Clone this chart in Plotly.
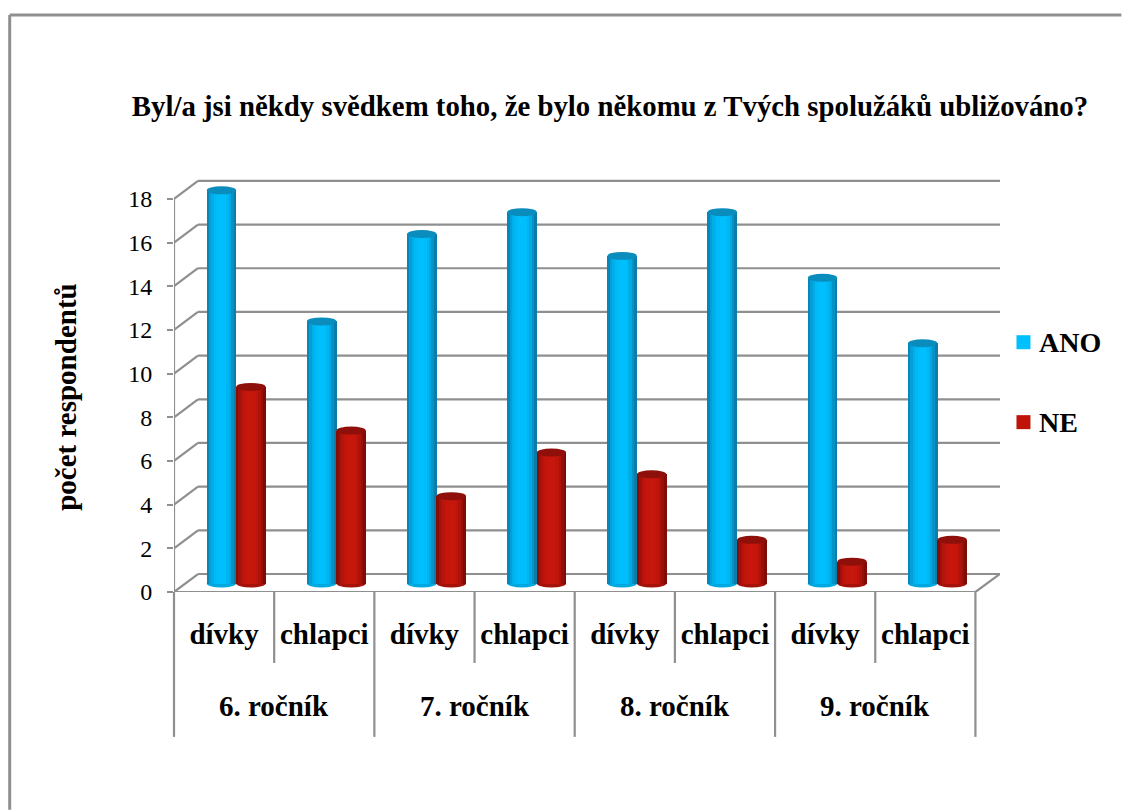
import plotly.graph_objects as go

TITLE = "Byl/a jsi někdy svědkem toho, že bylo někomu z Tvých spolužáků ubližováno?"
Y_TITLE = "počet respondentů"
GENDERS = ["dívky", "chlapci", "dívky", "chlapci", "dívky", "chlapci", "dívky", "chlapci"]
GRADES = ["6. ročník", "7. ročník", "8. ročník", "9. ročník"]
ANO = [18, 12, 16, 17, 15, 17, 14, 11]
NE = [9, 7, 4, 6, 5, 2, 1, 2]
Y_TICKS = list(range(0, 20, 2))

W, H = 1122, 810
LEFT, RIGHT, BOTTOM = 173.5, 1000.5, 592
CAT_PX = 100.3
UNIT_PX = 21.86
X_MAX = (RIGHT - LEFT) / CAT_PX
Y_MAX = 19
TOP = BOTTOM - Y_MAX * UNIT_PX
DX = 24 / CAT_PX
DY = 18 / UNIT_PX
LIFT = 8.5 / UNIT_PX
RY = 4 / UNIT_PX
BAR_W = 29.5 / CAT_PX
GRAY = "#8f8f8f"
FONT = "Liberation Serif"

# light across the cylinder, left to right
BLUE_STRIPS = ["#0a86b6", "#049fd8", "#01aeea", "#00b8f4", "#00bdfa", "#00bfff",
               "#00bfff", "#00bdfb", "#00b6f2", "#01a8e2", "#0592c6", "#0a7dab"]
RED_STRIPS = ["#860d07", "#a0110a", "#b4140b", "#bf150b", "#c5160c", "#c7160c",
              "#c7160c", "#c5160c", "#bd150b", "#ae130a", "#970f08", "#7f0c06"]


def px_x(p):
    return (p - LEFT) / (RIGHT - LEFT)


def px_y(p):
    return (BOTTOM - p) / (BOTTOM - TOP)


def line(x0, y0, x1, y1, ref="x", width=2.2):
    yref = "paper" if ref == "paper" else "y"
    xref = "paper" if ref == "paper" else "x"
    return dict(type="line", xref=xref, yref=yref, x0=x0, y0=y0, x1=x1, y1=y1,
                line=dict(color=GRAY, width=width), layer="below")


fig = go.Figure()
shapes = []

for name, values, strips, shift, cap, foot in [
    ("ANO", ANO, BLUE_STRIPS, 0.4736, "#0a8cbc", "#00a8e0"),
    ("NE", NE, RED_STRIPS, 0.768, "#8f100a", "#a5120a"),
]:
    centers = [i + shift for i in range(len(values))]
    strip_w = BAR_W / len(strips)
    for k, color in enumerate(strips):
        fig.add_trace(go.Bar(
            x=[c - BAR_W / 2 + (k + 0.5) * strip_w for c in centers],
            y=values,
            base=LIFT,
            width=strip_w * 1.15,
            name=name,
            showlegend=False,
            marker=dict(color=color, line=dict(width=0)),
            hovertemplate=f"%{{y}}<extra>{name}</extra>",
        ))
    for c, v in zip(centers, values):
        shapes.append(dict(type="circle", xref="x", yref="y", layer="below",
                           x0=c - BAR_W / 2, x1=c + BAR_W / 2, y0=LIFT - RY, y1=LIFT + RY,
                           fillcolor=foot, line=dict(width=0)))
        shapes.append(dict(type="circle", xref="x", yref="y", layer="above",
                           x0=c - BAR_W / 2, x1=c + BAR_W / 2,
                           y0=v + LIFT - RY, y1=v + LIFT + RY,
                           fillcolor=cap, line=dict(width=0)))

# back wall and side wall gridlines
for v in Y_TICKS:
    shapes.append(line(0, v, DX, v + DY))
    shapes.append(line(DX, v + DY, X_MAX, v + DY))

# floor
shapes.append(line(0, 0, 8, 0))
shapes.append(line(8, 0, X_MAX, DY))
shapes.append(line(0, 0, 0, 18))

# category dividers below the floor
for i in range(9):
    end = 737 if i % 2 == 0 else 663
    shapes.append(line(px_x(LEFT + i * CAT_PX), px_y(BOTTOM), px_x(LEFT + i * CAT_PX), px_y(end), ref="paper"))

# outer frame
shapes.append(line(px_x(9), px_y(14.5), px_x(W), px_y(14.5), ref="paper", width=3))
shapes.append(line(px_x(9), px_y(14.5), px_x(9), px_y(H), ref="paper", width=3))

annotations = [
    dict(text=f"<b>{g}</b>", x=2 * i + 1, y=px_y(706), xref="x", yref="paper", yanchor="middle",
         showarrow=False, font=dict(family=FONT, size=29, color="black"))
    for i, g in enumerate(GRADES)
]
annotations.append(dict(text=f"<b>{Y_TITLE}</b>", x=px_x(66), y=px_y(397), xref="paper", yref="paper",
                        xanchor="center", yanchor="middle", showarrow=False, textangle=-90,
                        font=dict(family=FONT, size=29, color="black")))

# legend keys
for name, color, py in [("ANO", "#00bfff", 342), ("NE", "#c0140a", 422)]:
    shapes.append(dict(type="rect", xref="paper", yref="paper", layer="above",
                       x0=px_x(1017), x1=px_x(1031), y0=px_y(py - 7), y1=px_y(py + 7),
                       fillcolor=color, line=dict(width=0)))
    annotations.append(dict(text=f"<b>{name}</b>", x=px_x(1038), y=px_y(py), xref="paper", yref="paper",
                            xanchor="left", yanchor="middle", showarrow=False,
                            font=dict(family=FONT, size=28, color="black")))

fig.update_layout(
    width=W,
    height=H,
    autosize=False,
    barmode="overlay",
    bargap=0,
    showlegend=False,
    paper_bgcolor="white",
    plot_bgcolor="white",
    margin=dict(l=LEFT, r=W - RIGHT, t=TOP, b=H - BOTTOM, pad=0),
    font=dict(family=FONT, size=24, color="black"),
    title=dict(text=f"<b>{TITLE}</b>", x=610 / W, xanchor="center", y=1 - 106 / H, yanchor="middle",
               font=dict(family=FONT, size=28.8, color="black")),
    xaxis=dict(
        range=[0, X_MAX],
        tickmode="array",
        tickvals=[i + 0.5 for i in range(8)],
        ticktext=[f"<b>{g}</b>" for g in GENDERS],
        tickfont=dict(size=29),
        ticks="outside",
        ticklen=16,
        tickcolor="rgba(0,0,0,0)",
        showgrid=False,
        zeroline=False,
        showline=False,
    ),
    yaxis=dict(
        range=[0, Y_MAX],
        tickmode="array",
        tickvals=Y_TICKS,
        ticks="outside",
        ticklen=6,
        tickwidth=2,
        tickcolor=GRAY,
        ticklabelstandoff=10,
        tickfont=dict(size=24),
        showgrid=False,
        zeroline=False,
        showline=False,
    ),
    shapes=shapes,
    annotations=annotations,
)

fig.write_html("out.html", config=dict(displayModeBar=False),
               post_script="document.body.style.margin = '0';")
